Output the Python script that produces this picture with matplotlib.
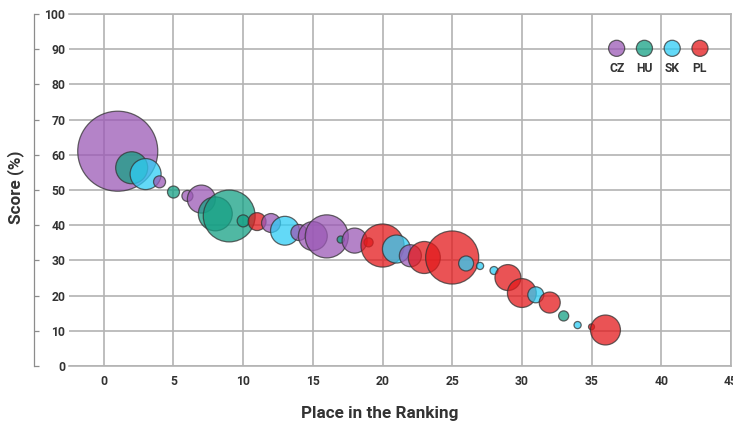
import matplotlib
matplotlib.use("Agg")
import matplotlib.pyplot as plt
from matplotlib.patches import Circle
from matplotlib.offsetbox import (DrawingArea, TextArea, VPacker,
                                  HPacker, AnchoredOffsetbox)

plt.rcParams["font.family"] = ["Roboto", "DejaVu Sans"]
LABEL_FONT = ["Liberation Sans Narrow", "Roboto", "DejaVu Sans"]

# one bubble per entry, in ranking order
places = [1, 2, 3, 4, 5, 6, 7, 8, 9, 10, 11, 12, 13, 14, 15, 16, 17, 18,
          19, 20, 21, 22, 23, 25, 26, 27, 28, 29, 30, 31, 32, 33, 34, 35, 36]
scores = [61, 56.3, 54.5, 52.3, 49.4, 48.3, 47.4, 43.2, 42.6, 41.2, 41.0,
          40.6, 38.4, 37.9, 36.9, 36.8, 35.9, 35.6, 35.1, 34.2, 33.2, 31.3,
          30.8, 30.8, 29.1, 28.4, 27.1, 25.1, 20.7, 20.2, 18.0, 14.2, 11.6,
          11.1, 10.2]
weights = [100, 16, 15, 2.25, 2.25, 1.9, 12.25, 18, 42, 2.25, 5, 5.6, 13,
           4, 13, 29, 0.8, 9.8, 1.3, 29, 12.25, 7.6, 16, 44, 3.5, 0.8, 1,
           10.5, 13, 4, 6.9, 1.6, 0.8, 0.56, 14]
countries = ["CZ", "HU", "SK", "CZ", "HU", "CZ", "CZ", "HU", "HU", "HU",
             "PL", "CZ", "SK", "CZ", "CZ", "CZ", "HU", "CZ", "PL", "PL",
             "SK", "CZ", "PL", "PL", "SK", "SK", "SK", "PL", "PL", "SK",
             "PL", "HU", "SK", "PL", "PL"]

legend_order = ["CZ", "HU", "SK", "PL"]
palette = {"CZ": "#9b59b6", "HU": "#16a085", "SK": "#2fcdf5", "PL": "#e31a1c"}

ALPHA = 0.75
EDGE = (0.2, 0.2, 0.2, 0.85)
TXT = "#333333"
GRID = "#b3b3b3"

fig = plt.figure(figsize=(7.33, 4.23), dpi=100)
ax = fig.add_axes([0.0941, 0.135, 0.903, 0.832])

ax.scatter(places, scores, s=[w * 33.2 for w in weights],
           c=[palette[c] for c in countries], alpha=ALPHA,
           edgecolors=EDGE, linewidths=0.9, zorder=3)

ax.set_xlim(-2.5, 45)
ax.set_ylim(0, 100)
ax.set_xticks(range(0, 46, 5))
ax.set_yticks(range(0, 101, 10))
ax.grid(True, color=GRID, linewidth=1.2)
ax.set_axisbelow(True)

for side in ("top", "right", "bottom"):
    ax.spines[side].set_color(GRID)
    ax.spines[side].set_linewidth(1.2)
# y axis line sits out to the left, labels between it and the grid
ax.spines["left"].set_position(("outward", 25))
ax.spines["left"].set_color("#8c8c8c")
ax.spines["left"].set_linewidth(0.9)

ax.tick_params(axis="x", length=0, pad=6.5, labelsize=8.7, labelcolor=TXT)
ax.tick_params(axis="y", direction="in", length=3.6, width=0.9,
               color="#8c8c8c", pad=-22.3, labelsize=8.7, labelcolor=TXT)
for lab in ax.get_xticklabels() + ax.get_yticklabels():
    lab.set_fontweight("bold")

fig.text(0.518, 0.0118, "Place in the Ranking", ha="center",
         va="baseline", fontsize=12.3, fontweight="bold", color=TXT,
         family=LABEL_FONT)
fig.text(0.0218, 0.558, "Score (%)", ha="center", va="center",
         rotation=90, fontsize=12.3, fontweight="bold", color=TXT,
         family=LABEL_FONT)

# legend: marker above its label
items = []
for name in legend_order:
    da = DrawingArea(14, 14, 0, 0)
    da.add_artist(Circle((7, 7), 5.8, facecolor=palette[name], alpha=ALPHA,
                         edgecolor=EDGE, linewidth=0.9))
    ta = TextArea(name, textprops=dict(fontsize=8.7, fontweight="bold",
                                       color=TXT))
    items.append(VPacker(children=[da, ta], align="center", pad=0, sep=3))
row = HPacker(children=items, align="top", pad=0, sep=6)
box = AnchoredOffsetbox(loc="upper right", child=row, pad=0, borderpad=0,
                        frameon=False, bbox_to_anchor=(0.968, 0.93),
                        bbox_transform=ax.transAxes)
ax.add_artist(box)

fig.savefig("out.png", dpi=100)
